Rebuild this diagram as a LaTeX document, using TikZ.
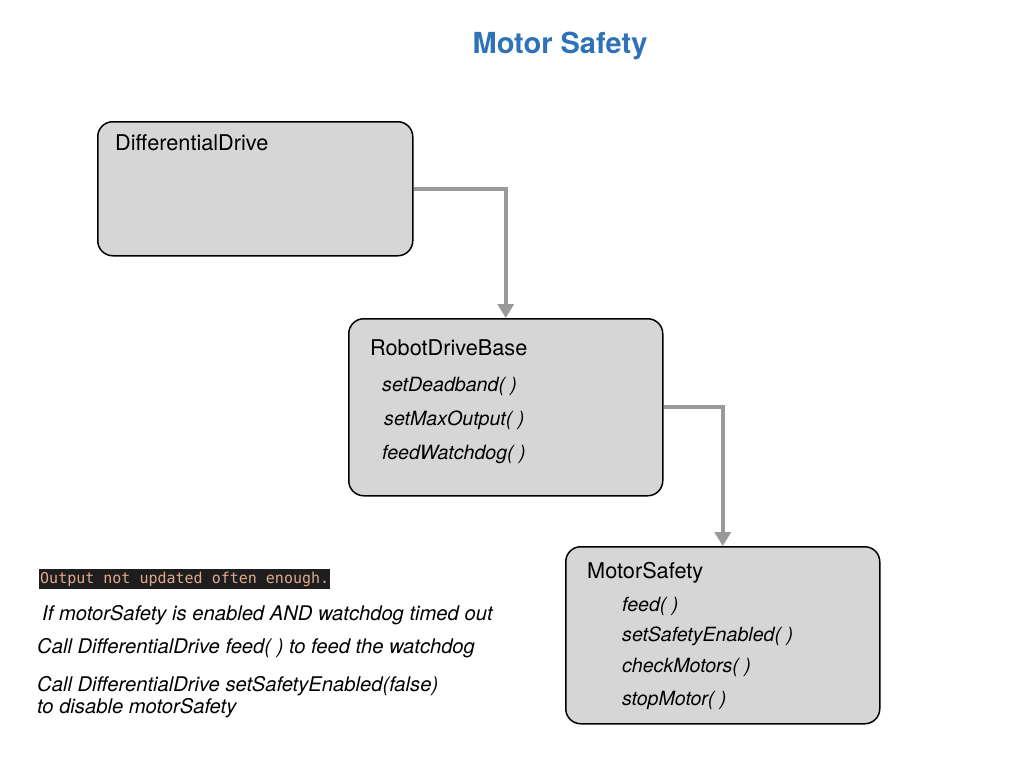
\documentclass[tikz,border=0pt]{standalone}
\usepackage{fontspec}
\setmainfont{TeX Gyre Heros}
\newfontfamily\codefont{DejaVu Sans Mono}
\usetikzlibrary{arrows.meta,positioning}
\definecolor{boxfill}{HTML}{D6D6D6}
\definecolor{linkgray}{HTML}{999999}
\definecolor{titleblue}{HTML}{2F72B8}
\definecolor{codebg}{HTML}{1E1E1E}
\definecolor{codefg}{HTML}{E2A98C}

\begin{document}
\begin{tikzpicture}[x=1pt,y=-1pt,
   classbox/.style={draw,line width=1.5pt,fill=boxfill,rounded corners=15pt,
                    anchor=north west,inner sep=0pt},
   classname/.style={anchor=base west,inner sep=0pt,font=\fontsize{21.7}{26}\selectfont},
   method/.style={anchor=base west,inner sep=0pt,font=\fontsize{19.6}{23}\selectfont\itshape},
   note/.style={anchor=base west,inner sep=0pt,font=\fontsize{20.2}{24}\selectfont\itshape},
   link/.style={draw=linkgray,line width=4pt,-{Triangle[length=14pt,width=16pt]}}]
   \useasboundingbox (0,0) rectangle (1024,768);
   \node[anchor=base,inner sep=0pt,text=titleblue,font=\fontsize{29}{34}\selectfont\bfseries]
      (title) at (560,54) {Motor Safety};
   % classes
   \node[classbox,minimum width=315pt,minimum height=134pt] (dd) at (97,121) {};
   \node[classbox,minimum width=314pt,minimum height=177pt] (rdb) at (348,318) {};
   \node[classbox,minimum width=314pt,minimum height=177pt] (ms) at (565,546) {};
   \node[classname] (dd_name) at (115,150) {DifferentialDrive};
   \node[classname] (rdb_name) at (370,355) {RobotDriveBase};
   \node[method] (rdb_m1) at (382,391) {setDeadband( )};
   \node[method] (rdb_m2) at (384,425) {setMaxOutput( )};
   \node[method] (rdb_m3) at (382,459) {feedWatchdog( )};
   \node[classname] (ms_name) at (587,578) {MotorSafety};
   \node[method] (ms_m1) at (622,611) {feed( )};
   \node[method] (ms_m2) at (622,641) {setSafetyEnabled( )};
   \node[method] (ms_m3) at (622,672) {checkMotors( )};
   \node[method] (ms_m4) at (622,705) {stopMotor( )};
   % notes
   \node[anchor=west,fill=codebg,text=codefg,inner xsep=1pt,inner ysep=2.5pt,
         font=\fontsize{15}{17}\codefont] (msg) at (39,579) {Output not updated often enough.};
   \node[note] (note1) at (42,620) {If motorSafety is enabled AND watchdog timed out};
   \node[note] (note2) at (37,653) {Call DifferentialDrive feed( ) to feed the watchdog};
   \node[note] (note3) at (37,691) {Call DifferentialDrive setSafetyEnabled(false)};
   \node[note] (note4) at (37,713) {to disable motorSafety};
   % links
   \path[link] (dd.east) -| (rdb.north);
   \path[link] (rdb.east) -| (ms.north);
\end{tikzpicture}
\end{document}
